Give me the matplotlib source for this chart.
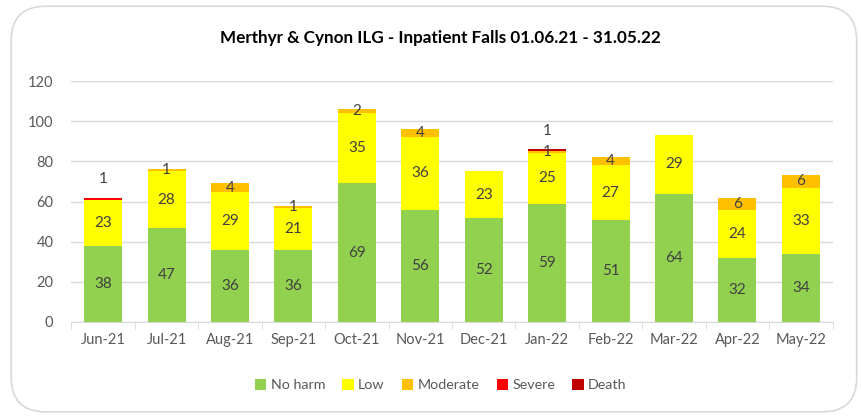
import matplotlib.pyplot as plt
import numpy as np
from matplotlib.patches import FancyBboxPatch

plt.rcParams["font.family"] = ["Lato", "DejaVu Sans"]

months = ["Jun-21", "Jul-21", "Aug-21", "Sep-21", "Oct-21", "Nov-21",
          "Dec-21", "Jan-22", "Feb-22", "Mar-22", "Apr-22", "May-22"]
no_harm = [38, 47, 36, 36, 69, 56, 52, 59, 51, 64, 32, 34]
low = [23, 28, 29, 21, 35, 36, 23, 25, 27, 29, 24, 33]
moderate = [0, 1, 4, 1, 2, 4, 0, 1, 4, 0, 6, 6]
severe = [1, 0, 0, 0, 0, 0, 0, 0, 0, 0, 0, 0]
death = [0, 0, 0, 0, 0, 0, 0, 1, 0, 0, 0, 0]

series = [
    ("No harm", no_harm, "#92D050"),
    ("Low", low, "#FFFF00"),
    ("Moderate", moderate, "#FFC000"),
    ("Severe", severe, "#FF0000"),
    ("Death", death, "#C00000"),
]

fig = plt.figure(figsize=(8.61, 4.16), dpi=100)
ax = fig.add_axes([0.083, 0.226, 0.884, 0.579])

x = np.arange(len(months))
bottom = np.zeros(len(months))
label_col = "#404040"
for name, vals, col in series:
    vals = np.array(vals, dtype=float)
    ax.bar(x, vals, 0.6, bottom=bottom, color=col, label=name, zorder=3)
    for i, v in enumerate(vals):
        if v <= 0:
            continue
        if name == "Severe":
            y = bottom[i] + v + 9
        elif name == "Death":
            y = bottom[i] + v + 9
        else:
            y = bottom[i] + v / 2
        ax.text(x[i], y, f"{int(v)}", ha="center", va="center",
                fontsize=11, color=label_col, zorder=4)
    bottom += vals

ax.set_xlim(-0.5, len(months) - 0.5)
ax.set_ylim(0, 120)
ax.set_yticks(range(0, 121, 20))
ax.set_xticks(x)
ax.set_xticklabels(months)
ax.set_xticks(np.arange(-0.5, len(months), 1), minor=True)
ax.tick_params(axis="x", which="major", length=0, pad=8, labelsize=10.5, colors="#595959")
ax.tick_params(axis="x", which="minor", length=5, color="#D9D9D9")
ax.tick_params(axis="y", length=0, pad=13, labelsize=10.5, colors="#595959")
ax.grid(axis="y", color="#D9D9D9", linewidth=1, zorder=0)
for s in ["left", "right", "top"]:
    ax.spines[s].set_visible(False)
ax.spines["bottom"].set_color("#D9D9D9")

fig.text(0.512, 0.909, "Merthyr & Cynon ILG - Inpatient Falls 01.06.21 - 31.05.22",
         ha="center", va="center", fontsize=12.3, fontweight="bold", color="#000000")

fig.legend(loc="center", bbox_to_anchor=(0.512, 0.075), ncol=5, frameon=False,
           fontsize=10.3, handlelength=0.8, handleheight=0.8, handletextpad=0.3,
           columnspacing=1.2, labelcolor="#595959")

border = FancyBboxPatch((0.013, 0.01), 0.982, 0.975, boxstyle="round,pad=0,rounding_size=0.04",
                        transform=fig.transFigure, facecolor="none", edgecolor="#D9D9D9",
                        linewidth=1.2, mutation_aspect=861 / 416)
fig.patches.append(border)

fig.savefig("out.png", dpi=100)
